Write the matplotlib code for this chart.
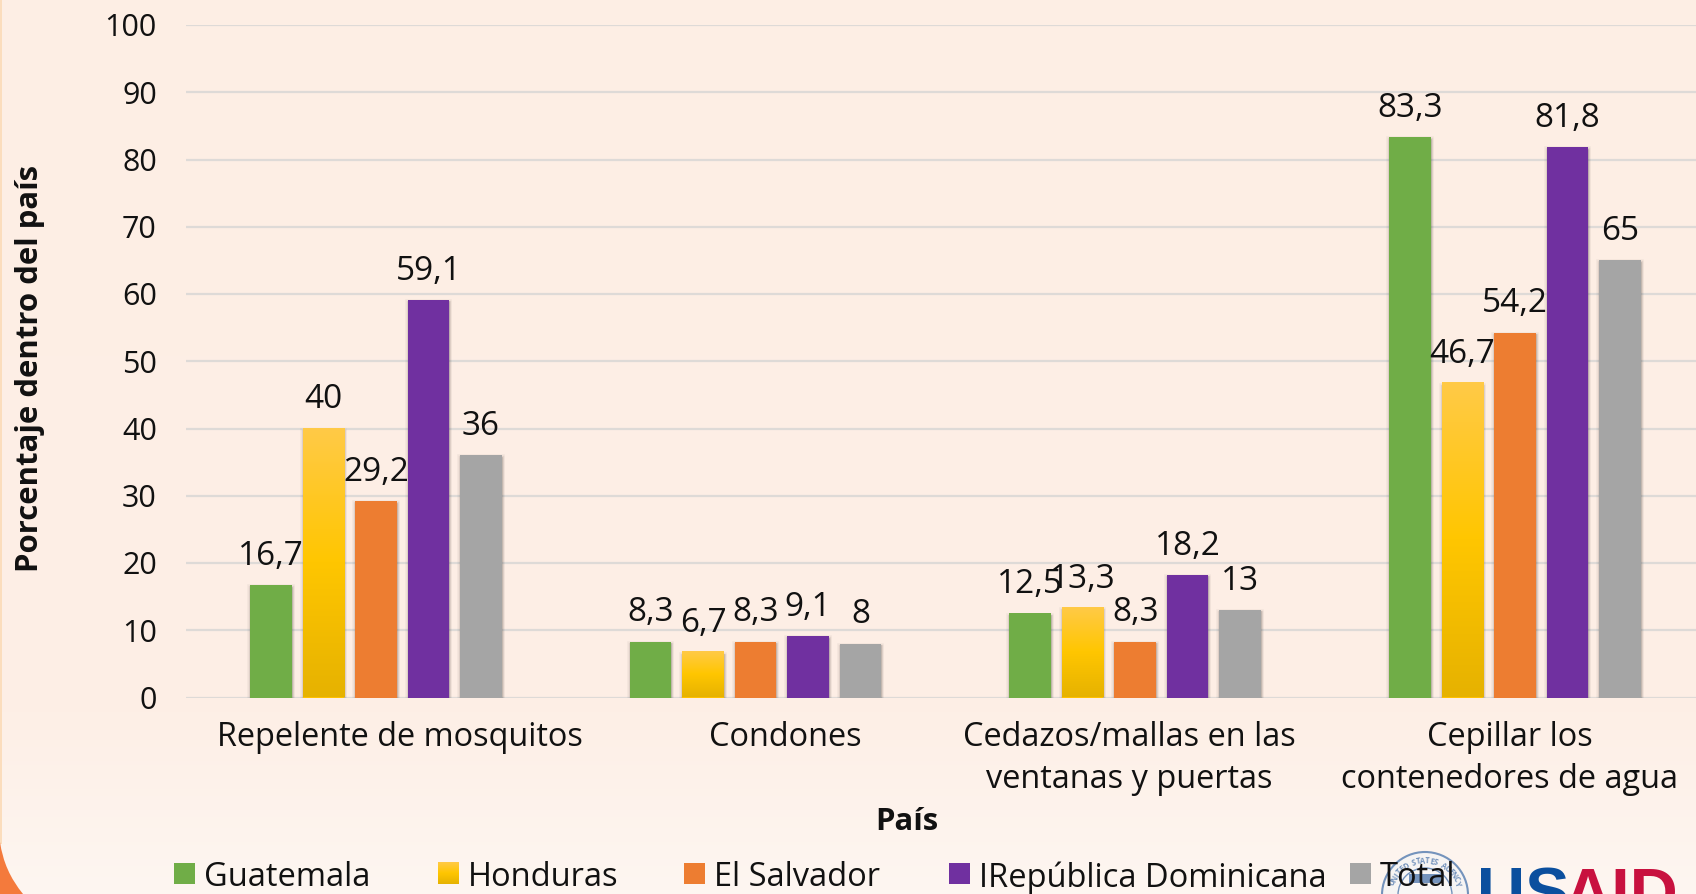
import numpy as np
import matplotlib
matplotlib.use("Agg")
import matplotlib.pyplot as plt
import matplotlib.patheffects as pe
from matplotlib.colors import LinearSegmentedColormap
from matplotlib.patches import Circle, PathPatch, Rectangle
from matplotlib.path import Path
from matplotlib.transforms import ScaledTranslation

categories = ["Repelente de mosquitos", "Condones",
              "Cedazos/mallas en las\nventanas y puertas",
              "Cepillar los\ncontenedores de agua"]
series_names = ["Guatemala", "Honduras", "El Salvador", "IRepública Dominicana", "Total"]
guatemala = [16.7, 8.3, 12.5, 83.3]
honduras = [40, 6.7, 13.3, 46.7]
el_salvador = [29.2, 8.3, 8.3, 54.2]
dominicana = [59.1, 9.1, 18.2, 81.8]
total = [36, 8, 13, 65]
series_colors = ["#70AD47", "#FFC000", "#ED7D31", "#7030A0", "#A5A5A5"]
y_ticks = list(range(0, 101, 10))

W, H = 1696, 895
FONT = "Open Sans"
plt.rcParams["font.family"] = [FONT, "DejaVu Sans"]

yellow_cmap = LinearSegmentedColormap.from_list(
    "yellow", [(0, "#FFCA47"), (0.5, "#FFC600"), (1, "#E6B200")])
bg_cmap = LinearSegmentedColormap.from_list(
    "bg", [(0, "#FDEEE4"), (0.8, "#FDEFE6"), (1, "#FEF6F1")])

fig = plt.figure(figsize=(W / 100, H / 100), dpi=100)

# page background
bg = fig.add_axes([0, 0, 1, 1], zorder=0)
bg.imshow(np.linspace(0, 1, 256).reshape(-1, 1), cmap=bg_cmap, aspect="auto",
          extent=[0, W, H, 0])
bg.set_xlim(0, W)
bg.set_ylim(H, 0)
bg.axis("off")
bg.add_patch(Rectangle((0, 0), 1.5, 845, color="#FBDDBD", lw=0))
corner = Path([(0, 843), (4, 872), (23, 895), (0, 895), (0, 843)],
              [Path.MOVETO, Path.CURVE3, Path.CURVE3, Path.LINETO, Path.CLOSEPOLY])
bg.add_patch(PathPatch(corner, color="#F47A3C", lw=0))

# chart
ax = fig.add_axes([186 / W, 1 - 698.5 / H, 1 - 186 / W, (698.5 - 26) / H], zorder=1)
ax.patch.set_alpha(0)
group_px = 379.7
ax.set_xlim(-0.5, -0.5 + (W - 186) / group_px)
ax.set_ylim(0, 100)
ax.set_yticks(y_ticks)
ax.tick_params(axis="both", length=0)
ax.tick_params(axis="y", labelsize=22, pad=21, labelcolor="#111111")
ax.set_xticks([])
for s in ax.spines.values():
    s.set_visible(False)
ax.yaxis.grid(True, color="#DEDAD7", lw=1.6)
ax.set_axisbelow(True)
nudge = ScaledTranslation(0, 1 / 100, fig.dpi_scale_trans)
for lab in ax.get_yticklabels():
    lab.set_transform(lab.get_transform() + nudge)

all_series = [guatemala, honduras, el_salvador, dominicana, total]
step = 52.5 / group_px
bar_w = 41.5 / group_px
# soft shadow, falls below the bar
shadow = [pe.Stroke(offset=(0, -1.5), linewidth=4, foreground="#3a322e", alpha=0.05),
          pe.Stroke(offset=(0, -1.5), linewidth=2.5, foreground="#3a322e", alpha=0.09),
          pe.Stroke(offset=(0, -1), linewidth=1, foreground="#3a322e", alpha=0.14),
          pe.Normal()]
for i, (name, vals, col) in enumerate(zip(series_names, all_series, series_colors)):
    xs = np.arange(len(categories)) + (i - 2) * step
    bars = ax.bar(xs, vals, width=bar_w, color=col, lw=0, zorder=2, path_effects=shadow)
    if name == "Honduras":
        for b in bars:
            ax.imshow(np.linspace(0, 1, 256).reshape(-1, 1), cmap=yellow_cmap,
                      aspect="auto", zorder=2.5,
                      extent=[b.get_x(), b.get_x() + b.get_width(), 0, b.get_height()])
        ax.set_xlim(-0.5, -0.5 + (W - 186) / group_px)
        ax.set_ylim(0, 100)
    for x, v in zip(xs, vals):
        ax.annotate(f"{v:g}".replace(".", ","), (x, v), xytext=(0, 15.5),
                    textcoords="offset points", ha="center", va="baseline",
                    fontsize=24, color="#111111", zorder=4, annotation_clip=False)

# category labels sit off-centre in the original
label_shift = [24, 30, -6, -5]
for i, (c, dx) in enumerate(zip(categories, label_shift)):
    ax.annotate(c, (i, 0), xytext=(dx * 0.72, -16), textcoords="offset points",
                ha="center", va="top", fontsize=23.4, color="#111111", linespacing=1.37,
                annotation_clip=False)

fig.text(30 / W, 1 - 368 / H, "Porcentaje dentro del país", rotation=90, ha="center",
         va="center", fontsize=22.4, fontweight="bold", color="#111111")
fig.text(907 / W, 1 - 822 / H, "País", ha="center", va="center", fontsize=22.4,
         fontweight="bold", color="#111111")

# logo
SEAL = "#7493BC"
ov = fig.add_axes([0, 0, 1, 1], zorder=2)
ov.set_xlim(0, W)
ov.set_ylim(H, 0)
ov.axis("off")
ov.patch.set_alpha(0)
ov.add_patch(Circle((1425, 896), 43, fc="#F6F4F3", ec=SEAL, lw=1.5))
ov.add_patch(Circle((1425, 896), 27, fc="#F9F7F5", ec=SEAL, lw=1))
ov.add_patch(Rectangle((1409, 875), 32, 9, color=SEAL, lw=0))
seal_txt = "UNITED STATES AGENCY"
for k, ch in enumerate(seal_txt):
    a = np.deg2rad(-68 + k * 136 / (len(seal_txt) - 1))
    ov.text(1425 + 35 * np.sin(a), 896 - 35 * np.cos(a), ch, rotation=-np.rad2deg(a),
            ha="center", va="center", fontsize=5.5, fontweight="bold", color=SEAL)
ov.text(1477, 867, "US", family="Liberation Sans", fontweight="bold", fontsize=48,
        color="#0B4F9E", va="top", ha="left")
ov.text(1678, 867, "AID", family="Liberation Sans", fontweight="bold", fontsize=48,
        color="#C8113F", va="top", ha="right")

# legend
legend_x = [174, 438, 684, 949, 1350]
for x, name, col in zip(legend_x, series_names, series_colors):
    if name == "Honduras":
        ov.imshow(np.linspace(0, 1, 64).reshape(-1, 1), cmap=yellow_cmap, aspect="auto",
                  extent=[x, x + 21, 885, 863], zorder=3)
        ov.set_xlim(0, W)
        ov.set_ylim(H, 0)
    else:
        ov.add_patch(Rectangle((x, 864), 21, 21, color=col, lw=0, zorder=3))
    ov.text(x + 30, 874, name, fontsize=23.5, color="#111111", va="center_baseline",
            ha="left", zorder=4)

fig.savefig("out.png", dpi=100)
